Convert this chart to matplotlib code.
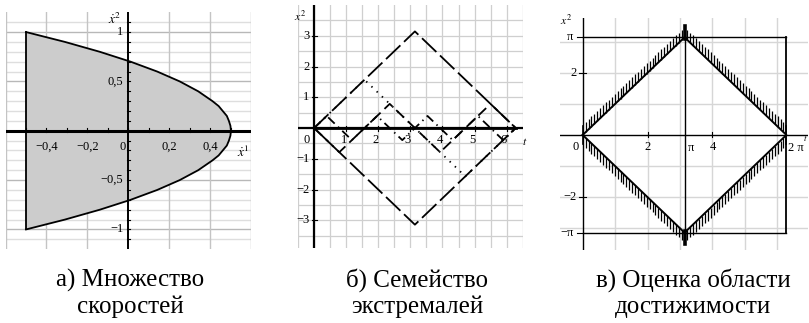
import matplotlib
matplotlib.use("Agg")
import matplotlib.pyplot as plt
import numpy as np
from matplotlib.collections import LineCollection

plt.rcParams['font.family'] = ['Liberation Serif', 'DejaVu Serif']
plt.rcParams['mathtext.fontset'] = 'stix'

PI = np.pi

# --- (а) velocity set: right boundary x1 of the set vs x2 ---
vel_x2 = [-1.0, -0.9, -0.8, -0.7, -0.6, -0.5, -0.4, -0.3, -0.25, -0.2, -0.15, -0.1, -0.05, 0.0,
          0.05, 0.1, 0.15, 0.2, 0.25, 0.3, 0.4, 0.5, 0.6, 0.7, 0.8, 0.9, 1.0]
vel_x1 = [-0.5, -0.31, -0.14, 0.01, 0.14, 0.25, 0.34, 0.41, 0.44, 0.46, 0.48, 0.49, 0.4975, 0.5,
          0.4975, 0.49, 0.48, 0.46, 0.44, 0.41, 0.34, 0.25, 0.14, 0.01, -0.14, -0.31, -0.5]
vel_left = -0.5
a_xticks = [-0.4, -0.2, 0.2, 0.4]
a_xlabels = ['−0,4', '−0,2', '0,2', '0,4']
a_yticks = [1, 0.5, -0.5, -1]
a_ylabels = ['1', '0,5', '−0,5', '−1']

# --- (б) extremals: switching points (t, x2) ---
ext_up_t, ext_up_x = [0, PI, 2 * PI], [0, PI, 0]
ext_low_t, ext_low_x = [0, PI, 2 * PI], [0, -PI, 0]
ext_dot_t = [0, PI / 2, 3 * PI / 2, 2 * PI]
ext_dot_x = [0, PI / 2, -PI / 2, 0]
ext_dash_t = [0, PI / 4, 3 * PI / 4, 5 * PI / 4, 7 * PI / 4, 2 * PI]
ext_dash_x = [0, -PI / 4, PI / 4, -PI / 4, PI / 4, 0]
ext_dd_t = [0, PI / 8, 3 * PI / 8, 5 * PI / 8, 7 * PI / 8, 9 * PI / 8,
            11 * PI / 8, 13 * PI / 8, 15 * PI / 8, 2 * PI]
ext_dd_x = [0, PI / 8, -PI / 8, PI / 8, -PI / 8, PI / 8, -PI / 8, PI / 8, -PI / 8, 0]
ext_zero_t, ext_zero_x = [0, 2 * PI], [0, 0]
b_xticks = [1, 2, 3, 4, 5, 6]
b_yticks = [3, 2, 1, -1, -2, -3]

# --- (в) reachable set estimate ---
reach_t = [0, PI, 2 * PI, PI, 0]
reach_x = [0, PI, 0, -PI, 0]
c_xticks = [2, 4]
c_yticks = [2, -2]

fig = plt.figure(figsize=(8.09, 3.23), dpi=100)
tick_fs = 9
grid_c = '#cfcfcf'

# ================= panel а =================
ax1 = fig.add_axes([0.0068, 0.2285, 0.304, 0.7334])
ax1.set_xlim(-0.6, 0.6)
ax1.set_ylim(-1.2, 1.2)
ax1.axis('off')
for y in np.arange(-1.1, 1.15, 0.1):
    major = abs(round(y * 2) - y * 2) < 1e-6
    ax1.axhline(y, color='#b8b8b8' if major else '#dedede', lw=1.0, zorder=0)
for x in [-0.6, -0.4, -0.2, 0.2, 0.4, 0.6]:
    ax1.axvline(x, color='#c4c4c4', lw=1.0, zorder=0)

bx = [vel_left] + vel_x1 + [vel_left]
by = [vel_x2[0]] + vel_x2 + [vel_x2[-1]]
ax1.fill(bx, by, color='#cccccc', zorder=1, lw=0)
ax1.plot(vel_x1, vel_x2, color='black', lw=1.3, zorder=3)
ax1.plot([vel_left, vel_left], [vel_x2[0], vel_x2[-1]], color='black', lw=1.3, zorder=3)

ax1.axhline(0, color='black', lw=2.2, zorder=4)
ax1.axvline(0, color='black', lw=1.4, zorder=4)
for x in np.arange(-0.5, 0.55, 0.1):
    ax1.plot([x, x], [-0.015, 0.03], color='black', lw=0.8, zorder=4)
for y in np.arange(-1.1, 1.15, 0.1):
    ax1.plot([-0.008, 0.008], [y, y], color='black', lw=0.8, zorder=4)
for x, s in zip(a_xticks, a_xlabels):
    ax1.text(x, -0.1, s, ha='center', va='top', fontsize=tick_fs, zorder=5)
ax1.text(-0.012, -0.1, '0', ha='right', va='top', fontsize=tick_fs, zorder=5)
for y, s in zip(a_yticks, a_ylabels):
    ax1.text(-0.025, y, s, ha='right', va='center', fontsize=tick_fs, zorder=5)
ax1.text(-0.07, 1.13, r'$\dot{x}^{2}$', ha='center', va='center', fontsize=9.5)
ax1.text(0.56, -0.22, r'$\dot{x}^{1}$', ha='center', va='center', fontsize=9.5)

# ================= panel б =================
ax2 = fig.add_axes([0.3684, 0.2322, 0.2777, 0.7523])
ax2.set_xlim(-0.5, 6.5)
ax2.set_ylim(-3.9, 4.0)
ax2.axis('off')
for x in np.arange(-0.5, 6.55, 0.5):
    ax2.axvline(x, color=grid_c, lw=0.9, zorder=0)
for y in np.arange(-3.5, 3.55, 0.5):
    ax2.axhline(y, color=grid_c, lw=0.9, zorder=0)
ax2.axhline(0, color='black', lw=1.6, zorder=2)
ax2.axvline(0, color='black', lw=1.6, zorder=2)

long_dash = (0, (11, 2.8))
ax2.plot(ext_up_t, ext_up_x, color='black', lw=1.3, ls=long_dash, zorder=3)
ax2.plot(ext_low_t, ext_low_x, color='black', lw=1.3, ls=long_dash, zorder=3)
ax2.plot(ext_dot_t, ext_dot_x, color='black', lw=1.3, ls=(0, (0.8, 3.2)), zorder=3)
ax2.plot(ext_dash_t, ext_dash_x, color='black', lw=1.3, ls=(0, (6, 3)), zorder=3)
ax2.plot(ext_dd_t, ext_dd_x, color='black', lw=1.3, ls=(0, (5, 2.5, 0.8, 2.5)), zorder=3)
ax2.plot(ext_zero_t, ext_zero_x, color='black', lw=2.0, zorder=3)

for x in b_xticks:
    ax2.plot([x, x], [-0.08, 0.08], color='black', lw=0.8, zorder=3)
    ax2.text(x - 0.08, -0.2, str(x), ha='center', va='top', fontsize=tick_fs)
for y in b_yticks:
    ax2.plot([-0.08, 0.08], [y, y], color='black', lw=0.8, zorder=3)
    lab = str(y).replace('-', '−')
    ax2.text(-0.15, y, lab, ha='right', va='center', fontsize=tick_fs)
ax2.text(-0.12, -0.2, '0', ha='right', va='top', fontsize=tick_fs)
ax2.text(-0.45, 3.62, r'$x^{2}$', ha='center', va='center', fontsize=8.5)
ax2.text(6.55, -0.45, r'$t$', ha='center', va='center', fontsize=8.5)

# ================= panel в =================
ax3 = fig.add_axes([0.6922, 0.226, 0.3066, 0.718])
ax3.set_xlim(-0.7, 6.95)
ax3.set_ylim(-3.7, 3.76)
ax3.axis('off')
for x in [1, 2, 3, 4, 5, 6]:
    ax3.axvline(x, color='#d6d6d6', lw=1.0, zorder=0)
for y in [-3, -2, -1, 1, 2, 3]:
    ax3.axhline(y, color='#d6d6d6', lw=1.0, zorder=0)
ax3.axhline(0, color='black', lw=1.0, zorder=2)
ax3.axvline(0, color='black', lw=1.0, zorder=2)

# bounding box and the t = pi line
ax3.plot([0, 2 * PI], [PI, PI], color='black', lw=1.0, zorder=2)
ax3.plot([0, 2 * PI], [-PI, -PI], color='black', lw=1.0, zorder=2)
ax3.plot([2 * PI, 2 * PI], [-PI, PI], color='black', lw=1.3, zorder=2)
ax3.plot([PI, PI], [-PI, PI], color='black', lw=1.0, zorder=2)

ax3.plot(reach_t, reach_x, color='black', lw=1.4, zorder=3)

# hatching on the outer side of each edge
segs = []
hatch_len = 0.33
for i in range(len(reach_t) - 1):
    t0, t1 = reach_t[i], reach_t[i + 1]
    y0, y1 = reach_x[i], reach_x[i + 1]
    sgn = 1 if (y0 + y1) > 0 else -1
    for f in np.linspace(0, 1, 36)[1:-1]:
        t = t0 + f * (t1 - t0)
        y = y0 + f * (y1 - y0)
        segs.append([(t, y), (t, y + sgn * hatch_len)])
ax3.add_collection(LineCollection(segs, colors='black', linewidths=0.9, zorder=3))
for y in [PI, -PI]:
    s = 1 if y > 0 else -1
    ax3.plot([PI, PI], [y - s * 0.05, y + s * 0.35], color='black', lw=2.6, zorder=4)
for t in [0, 2 * PI]:
    ax3.plot([t, t], [-0.3, 0.3], color='black', lw=1.2, zorder=4)

for y, s in zip([PI, -PI], ['π', '−π']):
    ax3.plot([-0.18, 0], [y, y], color='black', lw=0.8)
    ax3.text(-0.28, y, s, ha='right', va='center', fontsize=tick_fs)
for y in c_yticks:
    ax3.plot([-0.1, 0.1], [y, y], color='black', lw=0.8)
    ax3.text(-0.2, y, str(y).replace('-', '−'), ha='right', va='center', fontsize=tick_fs)
for x in c_xticks:
    ax3.plot([x, x], [-0.08, 0.08], color='black', lw=0.8)
    ax3.text(x, -0.2, str(x), ha='center', va='top', fontsize=tick_fs)
ax3.text(-0.12, -0.2, '0', ha='right', va='top', fontsize=tick_fs)
ax3.text(PI + 0.1, -0.22, 'π', ha='left', va='top', fontsize=tick_fs)
ax3.text(2 * PI + 0.04, -0.22, '2 π', ha='left', va='top', fontsize=tick_fs)
ax3.text(6.8, -0.1, r'$t$', ha='left', va='center', fontsize=6.5)
ax3.text(-0.5, 3.68, r'$x^{2}$', ha='center', va='center', fontsize=8.5)

# ================= captions =================
cap_fs = 18
captions = [(130, 'а) Множество', 'скоростей'),
            (417, 'б) Семейство', 'экстремалей'),
            (693, 'в) Оценка области', 'достижимости')]
for cx, l1, l2 in captions:
    fig.text(cx / 809, 1 - 280 / 323, l1, ha='center', va='center', fontsize=cap_fs)
    fig.text(cx / 809, 1 - 307 / 323, l2, ha='center', va='center', fontsize=cap_fs)

fig.savefig('out.png', dpi=100)
